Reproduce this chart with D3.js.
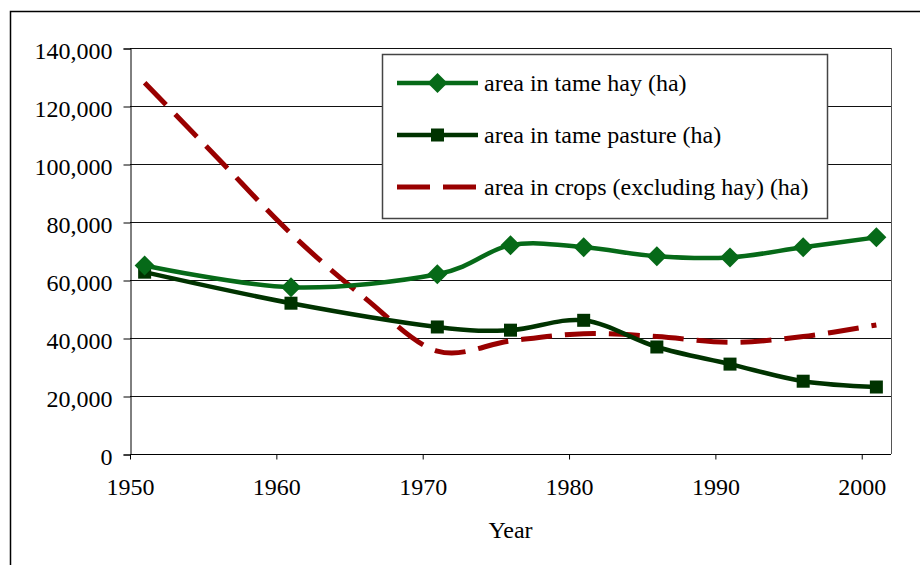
<!DOCTYPE html>
<html>
<head>
<meta charset="utf-8">
<script src="https://cdn.jsdelivr.net/npm/d3@7"></script>
<style>
    body { margin: 0; background: #fff; }
</style>
</head>
<body>
<div class="d3"></div>
<script>
// census years with hay / pasture values
var years = [1951, 1961, 1971, 1976, 1981, 1986, 1991, 1996, 2001];
var hay = [65000, 57500, 62000, 72000, 71300, 68200, 67800, 71300, 74700];
var pasture = [62700, 52000, 43800, 42700, 46100, 36900, 31000, 25100, 23100];

// crops series (no markers)
var cropYears = [1951, 1956, 1961, 1966, 1971, 1976, 1981, 1986, 1991, 1996, 2001];
var crops = [128000, 102000, 76000, 54000, 35500, 39000, 41500, 40500, 38500, 40500, 44500];

var xTicks = [1950, 1960, 1970, 1980, 1990, 2000];
var yTicks = [0, 20000, 40000, 60000, 80000, 100000, 120000, 140000];

var seriesNames = ['area in tame hay (ha)', 'area in tame pasture (ha)', 'area in crops (excluding hay) (ha)'];

var width = 920, height = 565;
var font = '"Liberation Serif", "Times New Roman", "DejaVu Serif", serif';
var hayColor = '#066a18', pastureColor = '#003300', cropColor = '#990000';

var svg = d3.select('div.d3')
    .append('svg')
    .attr('width', width)
    .attr('height', height);

// outer frame (right and bottom run off the picture)
svg.append('rect')
    .attr('x', 10.5).attr('y', 11.5)
    .attr('width', 930).attr('height', 580)
    .attr('fill', 'none')
    .attr('stroke', '#000')
    .attr('stroke-width', 1.5);

var x = d3.scaleLinear().domain([1950, 2002]).range([130, 891]);
var y = d3.scaleLinear().domain([0, 140000]).range([454, 48]);

// gridlines
svg.append('g')
    .selectAll('line')
    .data(yTicks.filter(function(d) { return d > 0; }))
    .enter()
    .append('line')
    .attr('x1', x(1950)).attr('x2', x(2002))
    .attr('y1', function(d) { return Math.round(y(d)) + 0.5; })
    .attr('y2', function(d) { return Math.round(y(d)) + 0.5; })
    .attr('stroke', '#111')
    .attr('stroke-width', 1);

// right border of plot area
svg.append('line')
    .attr('x1', x(2002) + 0.5).attr('x2', x(2002) + 0.5)
    .attr('y1', y(140000)).attr('y2', y(0))
    .attr('stroke', '#555');

// axes
var yAxis = svg.append('g')
    .attr('transform', 'translate(' + (x(1950) + 0.5) + ',0.5)')
    .call(d3.axisLeft(y).tickValues(yTicks).tickSize(7).tickPadding(11)
        .tickFormat(d3.format(',')));

var xAxis = svg.append('g')
    .attr('transform', 'translate(0,' + (y(0) + 0.5) + ')')
    .call(d3.axisBottom(x).tickValues(xTicks).tickSize(5).tickPadding(18)
        .tickFormat(d3.format('d')));

[yAxis, xAxis].forEach(function(a) {
    a.attr('font-family', font).attr('font-size', 24);
    a.selectAll('text').style('font-family', font).style('font-size', '24px');
    a.selectAll('line').attr('stroke', '#000');
    a.select('.domain').attr('stroke', '#000');
});
yAxis.selectAll('text').attr('dy', '0.42em');
xAxis.select('.domain').attr('d', 'M' + x(1950) + ',0H' + x(2002));

// axis title
svg.append('text')
    .attr('x', (x(1950) + x(2002)) / 2)
    .attr('y', 538)
    .attr('text-anchor', 'middle')
    .style('font-family', font)
    .style('font-size', '24px')
    .text('Year');

var curve = d3.curveCardinal.tension(0);
var line = d3.line()
    .x(function(d) { return x(d[0]); })
    .y(function(d) { return y(d[1]); })
    .curve(curve);

var hayData = years.map(function(yr, i) { return [yr, hay[i]]; });
var pastureData = years.map(function(yr, i) { return [yr, pasture[i]]; });
var cropData = cropYears.map(function(yr, i) { return [yr, crops[i]]; });

svg.append('path')
    .datum(cropData)
    .attr('d', line)
    .attr('fill', 'none')
    .attr('stroke', cropColor)
    .attr('stroke-width', 5)
    .attr('stroke-dasharray', '31,13');

svg.append('path')
    .datum(pastureData)
    .attr('d', line)
    .attr('fill', 'none')
    .attr('stroke', pastureColor)
    .attr('stroke-width', 4.5);

svg.append('path')
    .datum(hayData)
    .attr('d', line)
    .attr('fill', 'none')
    .attr('stroke', hayColor)
    .attr('stroke-width', 4.5);

// markers
function diamond(g, cx, cy) {
    g.append('path')
        .attr('d', 'M' + cx + ',' + (cy - 10) + 'L' + (cx + 10) + ',' + cy +
            'L' + cx + ',' + (cy + 10) + 'L' + (cx - 10) + ',' + cy + 'Z')
        .attr('fill', hayColor);
}
function square(g, cx, cy) {
    g.append('rect')
        .attr('x', cx - 6.5).attr('y', cy - 6.5)
        .attr('width', 13).attr('height', 13)
        .attr('fill', pastureColor);
}

var marks = svg.append('g');
pastureData.forEach(function(d) { square(marks, x(d[0]), y(d[1])); });
hayData.forEach(function(d) { diamond(marks, x(d[0]), y(d[1])); });

// legend
var legend = svg.append('g');
legend.append('rect')
    .attr('x', 382.5).attr('y', 54.5)
    .attr('width', 445).attr('height', 164)
    .attr('fill', '#fff')
    .attr('stroke', '#444')
    .attr('stroke-width', 1.5);

var rows = [83, 135, 187];
var colors = [hayColor, pastureColor, cropColor];
rows.forEach(function(ry, i) {
    var l = legend.append('line')
        .attr('x1', 397).attr('x2', 478)
        .attr('y1', ry).attr('y2', ry)
        .attr('stroke', colors[i])
        .attr('stroke-width', i === 2 ? 5 : 4.5);
    if (i === 2) l.attr('stroke-dasharray', '33,13');
    if (i === 0) diamond(legend, 437.5, ry);
    if (i === 1) square(legend, 437.5, ry);
    legend.append('text')
        .attr('x', 484)
        .attr('y', ry + 8)
        .style('font-family', font)
        .style('font-size', '24px')
        .text(seriesNames[i]);
});
</script>
</body>
</html>
